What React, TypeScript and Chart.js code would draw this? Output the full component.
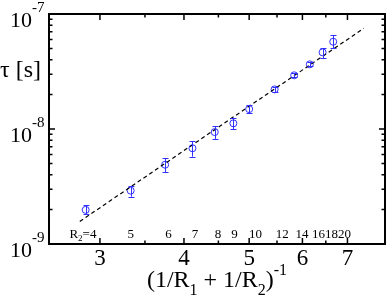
import React, { useEffect, useRef } from "react";
import { Chart, registerables } from "chart.js";

Chart.register(...registerables);

// (1/R1 + 1/R2)^-1 values
const xValues = [2.857, 3.333, 3.75, 4.118, 4.444, 4.737, 5.0, 5.455, 5.833, 6.154, 6.429, 6.667];
// tau [s]
const tauValues = [1.98e-9, 2.91e-9, 4.89e-9, 6.8e-9, 9.4e-9, 1.12e-8, 1.49e-8, 2.21e-8, 2.93e-8, 3.65e-8, 4.64e-8, 5.74e-8];
const tauLow = [1.82e-9, 2.58e-9, 4.23e-9, 5.75e-9, 8.2e-9, 1.0e-8, 1.38e-8, 2.1e-8, 2.82e-8, 3.52e-8, 4.14e-8, 5.06e-8];
const tauHigh = [2.18e-9, 3.2e-9, 5.6e-9, 7.85e-9, 1.06e-8, 1.25e-8, 1.62e-8, 2.33e-8, 3.05e-8, 3.8e-8, 5.06e-8, 6.57e-8];

// dashed fit line
const fitX = [2.8, 7.4];
const fitTau = [1.57e-9, 7.5e-8];

// R2 annotations
const r2Labels = ["4", "5", "6", "7", "8", "9", "10", "12", "14", "16", "18", "20"];
const r2LabelX = [2.83, 3.333, 3.793, 4.153, 4.493, 4.754, 5.11, 5.601, 5.991, 6.34, 6.63, 6.93];
const r2LabelTau = 1.12e-9;

// axes
const xMin = 2.52;
const xMax = 7.96;
const yMin = 1e-9;
const yMax = 1e-7;
const xMajorTicks = [3, 4, 5, 6, 7];
const xMinorTicks = [3.5, 4.5, 5.5, 6.5];
const yMajorTicks = [1e-9, 1e-8, 1e-7];
const yMajorExp = ["-9", "-8", "-7"];
const yMinorTicks = [2e-9, 3e-9, 4e-9, 5e-9, 6e-9, 7e-9, 8e-9, 9e-9, 2e-8, 3e-8, 4e-8, 5e-8, 6e-8, 7e-8, 8e-8, 9e-8];

const SERIF = "'Liberation Serif', 'Times New Roman', serif";
const BLUE = "#3030ff";

const decorPlugin = {
  id: "decor",
  afterDatasetsDraw(chart: any) {
    const ctx = chart.ctx as CanvasRenderingContext2D;
    const xs = chart.scales.x;
    const ys = chart.scales.y;
    const a = chart.chartArea;
    ctx.save();

    // error bars
    ctx.strokeStyle = BLUE;
    ctx.lineWidth = 1;
    for (let i = 0; i < xValues.length; i++) {
      const px = Math.round(xs.getPixelForValue(xValues[i])) + 0.5;
      const pl = ys.getPixelForValue(tauLow[i]);
      const ph = ys.getPixelForValue(tauHigh[i]);
      ctx.beginPath();
      ctx.moveTo(px, pl);
      ctx.lineTo(px, ph);
      ctx.moveTo(px - 3, Math.round(pl) + 0.5);
      ctx.lineTo(px + 3, Math.round(pl) + 0.5);
      ctx.moveTo(px - 3, Math.round(ph) + 0.5);
      ctx.lineTo(px + 3, Math.round(ph) + 0.5);
      ctx.stroke();
    }

    // ticks
    ctx.strokeStyle = "#000";
    ctx.lineWidth = 1.5;
    const tickX = (v: number, len: number) => {
      const px = xs.getPixelForValue(v);
      ctx.beginPath();
      ctx.moveTo(px, a.bottom);
      ctx.lineTo(px, a.bottom - len);
      ctx.moveTo(px, a.top);
      ctx.lineTo(px, a.top + len);
      ctx.stroke();
    };
    const tickY = (v: number, len: number) => {
      const py = ys.getPixelForValue(v);
      ctx.beginPath();
      ctx.moveTo(a.left, py);
      ctx.lineTo(a.left + len, py);
      ctx.moveTo(a.right, py);
      ctx.lineTo(a.right - len, py);
      ctx.stroke();
    };
    xMajorTicks.forEach((v) => tickX(v, 6));
    xMinorTicks.forEach((v) => tickX(v, 3.5));
    yMajorTicks.forEach((v) => tickY(v, 6));
    yMinorTicks.forEach((v) => tickY(v, 3.5));

    // frame
    ctx.lineWidth = 2;
    ctx.strokeRect(a.left, a.top, a.right - a.left, a.bottom - a.top);

    ctx.fillStyle = "#000";
    ctx.textBaseline = "alphabetic";

    // x tick labels
    ctx.font = `23px ${SERIF}`;
    ctx.textAlign = "center";
    xMajorTicks.forEach((v) => {
      ctx.fillText(String(v), xs.getPixelForValue(v), a.bottom + 21);
    });

    // y tick labels 10^n
    yMajorTicks.forEach((v, i) => {
      const py = ys.getPixelForValue(v);
      ctx.font = `22px ${SERIF}`;
      ctx.textAlign = "right";
      ctx.fillText("10", 32, py + 13);
      ctx.font = `15px ${SERIF}`;
      ctx.textAlign = "left";
      ctx.fillText(yMajorExp[i], 32, py - 2);
    });

    // R2 annotations
    const ly = ys.getPixelForValue(r2LabelTau);
    r2Labels.forEach((lab, i) => {
      const cx = xs.getPixelForValue(r2LabelX[i]);
      if (i === 0) {
        ctx.font = `13px ${SERIF}`;
        const wR = ctx.measureText("R").width;
        const wRest = ctx.measureText("=" + lab).width;
        ctx.font = `9px ${SERIF}`;
        const w2 = ctx.measureText("2").width;
        const total = wR + w2 + wRest;
        let x0 = cx - total / 2;
        ctx.textAlign = "left";
        ctx.font = `13px ${SERIF}`;
        ctx.fillText("R", x0, ly);
        x0 += wR;
        ctx.font = `9px ${SERIF}`;
        ctx.fillText("2", x0, ly + 3);
        x0 += w2;
        ctx.font = `13px ${SERIF}`;
        ctx.fillText("=" + lab, x0, ly);
      } else {
        ctx.font = `13px ${SERIF}`;
        ctx.textAlign = "center";
        ctx.fillText(lab, cx, ly);
      }
    });

    // x axis title: (1/R1 + 1/R2)^-1
    const parts: [string, string][] = [
      ["(1/R", "n"],
      ["1", "sub"],
      [" + 1/R", "n"],
      ["2", "sub"],
      [")", "n"],
      ["-1", "sup"],
    ];
    const fontFor = (k: string) => (k === "n" ? `24px ${SERIF}` : `16px ${SERIF}`);
    let total = 0;
    parts.forEach(([t, k]) => {
      ctx.font = fontFor(k);
      total += ctx.measureText(t).width;
    });
    let x = (a.left + a.right) / 2 - total / 2;
    const base = 287;
    ctx.textAlign = "left";
    parts.forEach(([t, k]) => {
      ctx.font = fontFor(k);
      const yy = k === "n" ? base : k === "sub" ? base + 8 : base - 12;
      ctx.fillText(t, x, yy);
      x += ctx.measureText(t).width;
    });

    // y axis title
    ctx.font = `24px ${SERIF}`;
    ctx.textAlign = "left";
    ctx.fillText("\u03c4 [s]", 0, 77);

    ctx.restore();
  },
};

export default function App() {
  const ref = useRef<HTMLCanvasElement | null>(null);
  useEffect(() => {
    if (!ref.current) return;
    const chart = new Chart(ref.current, {
      type: "scatter",
      data: {
        datasets: [
          {
            label: "fit",
            data: fitX.map((x, i) => ({ x, y: fitTau[i] })),
            showLine: true,
            borderColor: "#000",
            borderWidth: 1.2,
            borderDash: [4, 3],
            pointRadius: 0,
            fill: false,
          },
          {
            label: "tau",
            data: xValues.map((x, i) => ({ x, y: tauValues[i] })),
            showLine: false,
            pointStyle: "circle",
            pointRadius: 3.5,
            borderColor: BLUE,
            backgroundColor: "rgba(0,0,0,0)",
            borderWidth: 1,
          },
        ],
      },
      options: {
        animation: false,
        responsive: false,
        devicePixelRatio: 1,
        layout: { padding: { left: 49, top: 14, right: 1, bottom: 57 } },
        plugins: { legend: { display: false }, tooltip: { enabled: false } },
        scales: {
          x: { type: "logarithmic", min: xMin, max: xMax, display: false },
          y: { type: "logarithmic", min: yMin, max: yMax, display: false },
        },
      },
      plugins: [decorPlugin],
    });
    return () => chart.destroy();
  }, []);
  return (
    <div style={{ position: "fixed", left: 0, top: 0, width: 390, height: 301, background: "#fff" }}>
      <canvas ref={ref} width={390} height={301} />
    </div>
  );
}
